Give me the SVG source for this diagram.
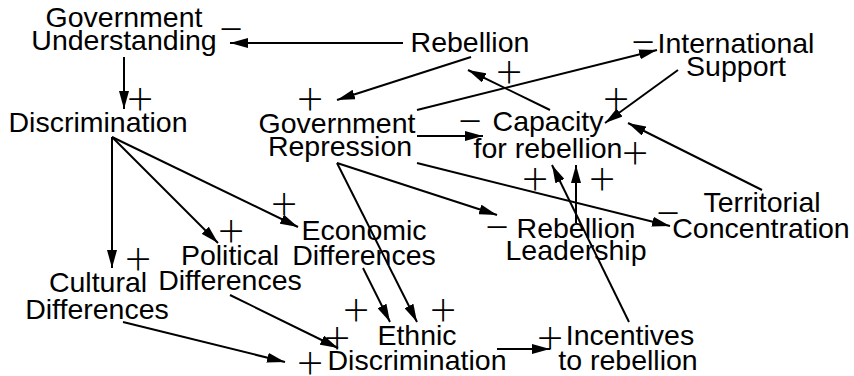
<svg xmlns="http://www.w3.org/2000/svg" width="854" height="376" viewBox="0 0 854 376">
<defs>
<style>
.n text{font-family:"Liberation Sans",Arial,sans-serif;font-size:28.5px;text-anchor:middle;fill:#000}
.s{font-family:Lato,"DejaVu Sans",sans-serif;font-weight:300;font-size:46px;text-anchor:middle;fill:#000}
.e line{stroke:#000;stroke-width:2;fill:none;marker-end:url(#ah)}
</style>
<marker id="ah" markerUnits="userSpaceOnUse" markerWidth="18" markerHeight="10" refX="18" refY="5" orient="auto">
<path d="M0,0 L18,5 L0,10 z" fill="#000"/>
</marker>
</defs>
<rect width="854" height="376" fill="#fff"/>
<g class="e" id="edges">
<line x1="403" y1="43" x2="230" y2="43"/>
<line x1="124" y1="57" x2="124" y2="109"/>
<line x1="471" y1="57" x2="337" y2="100"/>
<line x1="550" y1="110" x2="468" y2="70"/>
<line x1="417" y1="110" x2="657" y2="50"/>
<line x1="678" y1="70" x2="605" y2="123"/>
<line x1="417" y1="136" x2="483" y2="136"/>
<line x1="762" y1="190" x2="628" y2="123"/>
<line x1="417" y1="163" x2="670" y2="226"/>
<line x1="337" y1="163" x2="497" y2="215"/>
<line x1="337" y1="163" x2="417" y2="322"/>
<line x1="576" y1="223" x2="576" y2="165"/>
<line x1="629" y1="322" x2="552" y2="165"/>
<line x1="112" y1="137" x2="112" y2="268"/>
<line x1="112" y1="137" x2="218" y2="243"/>
<line x1="112" y1="137" x2="298" y2="227"/>
<line x1="363" y1="268" x2="390" y2="322"/>
<line x1="230" y1="295" x2="338" y2="348"/>
<line x1="123" y1="322" x2="285" y2="362"/>
<line x1="497" y1="349" x2="550" y2="349"/>
</g>
<g id="signs">
<text class="s" x="231" y="44">−</text>
<text class="s" x="140" y="114">+</text>
<text class="s" x="509" y="87">+</text>
<text class="s" x="310" y="114">+</text>
<text class="s" x="643" y="57">−</text>
<text class="s" x="616" y="114">+</text>
<text class="s" x="470" y="136">−</text>
<text class="s" x="635" y="168">+</text>
<text class="s" x="535" y="194">+</text>
<text class="s" x="602" y="194">+</text>
<text class="s" x="668" y="228">−</text>
<text class="s" x="497" y="242">−</text>
<text class="s" x="284" y="219">+</text>
<text class="s" x="231" y="246">+</text>
<text class="s" x="138" y="274">+</text>
<text class="s" x="356" y="325">+</text>
<text class="s" x="443" y="325">+</text>
<text class="s" x="337" y="353">+</text>
<text class="s" x="310" y="378">+</text>
<text class="s" x="550" y="353">+</text>
</g>
<g class="n" id="gov_understanding"><text x="124" y="27">Government</text><text x="124" y="50">Understanding</text></g>
<g class="n" id="rebellion"><text x="470" y="52">Rebellion</text></g>
<g class="n" id="international_support"><text x="736" y="53">International</text><text x="736" y="76">Support</text></g>
<g class="n" id="gov_repression"><text x="337" y="133">Government</text><text x="340" y="156">Repression</text></g>
<g class="n" id="capacity"><text x="548" y="131">Capacity</text><text x="548" y="158">for rebellion</text></g>
<g class="n" id="discrimination"><text x="98" y="132">Discrimination</text></g>
<g class="n" id="territorial"><text x="762" y="212">Territorial</text><text x="761" y="238">Concentration</text></g>
<g class="n" id="economic"><text x="364" y="240">Economic</text><text x="364" y="265">Differences</text></g>
<g class="n" id="political"><text x="230" y="265">Political</text><text x="230" y="290">Differences</text></g>
<g class="n" id="leadership"><text x="576" y="238">Rebellion</text><text x="576" y="260">Leadership</text></g>
<g class="n" id="cultural"><text x="98" y="292">Cultural</text><text x="97" y="319">Differences</text></g>
<g class="n" id="ethnic"><text x="417" y="345">Ethnic</text><text x="417" y="370">Discrimination</text></g>
<g class="n" id="incentives"><text x="630" y="345">Incentives</text><text x="628" y="370">to rebellion</text></g>
</svg>
